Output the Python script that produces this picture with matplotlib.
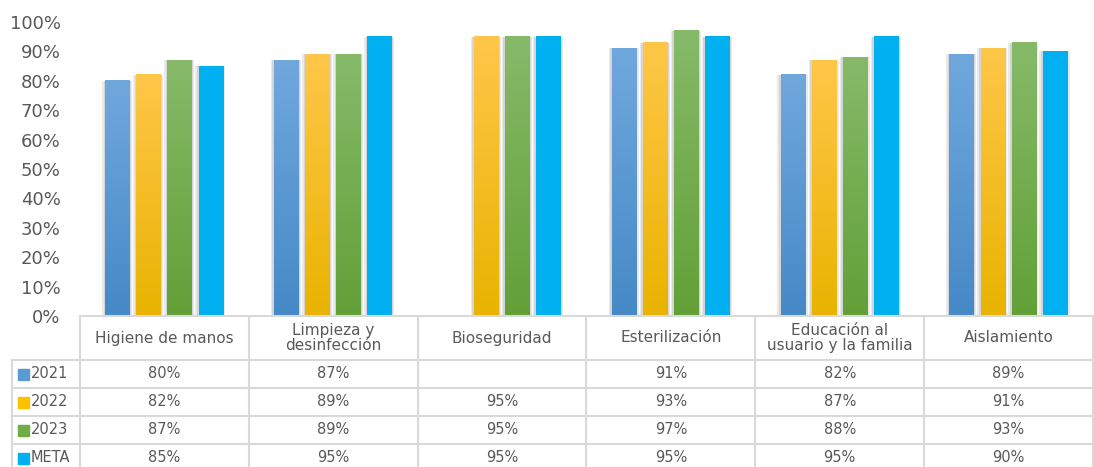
import numpy as np
import matplotlib
matplotlib.use("Agg")
import matplotlib.pyplot as plt
from matplotlib.colors import LinearSegmentedColormap

# ---------------- data ----------------
categories = ["Higiene de manos", "Limpieza y\ndesinfección", "Bioseguridad",
              "Esterilización", "Educación al\nusuario y la familia", "Aislamiento"]
series_names = ["2021", "2022", "2023", "META"]
v2021 = [0.80, 0.87, np.nan, 0.91, 0.82, 0.89]
v2022 = [0.82, 0.89, 0.95, 0.93, 0.87, 0.91]
v2023 = [0.87, 0.89, 0.95, 0.97, 0.88, 0.93]
vmeta = [0.85, 0.95, 0.95, 0.95, 0.95, 0.90]
series_values = [v2021, v2022, v2023, vmeta]
yticks = [0, 0.1, 0.2, 0.3, 0.4, 0.5, 0.6, 0.7, 0.8, 0.9, 1.0]

# ---------------- style ----------------
grad = [("#70A8DD", "#4689C7"), ("#FFC749", "#E9B300"), ("#86BA69", "#62A037"), ("#00B0F0", "#00B0F0")]
key_colors = ["#5B9BD5", "#FFC000", "#70AD47", "#00B0F0"]
txt = "#595959"
line_c = "#D9D9D9"

W, H = 1094, 467
fig = plt.figure(figsize=(W / 100, H / 100), dpi=100)
plt.rcParams['font.family'] = ['DejaVu Sans']

px_left, px_right, px_bottom, px_top = 80, 1093, 316, 22
ax = fig.add_axes([px_left / W, (H - px_bottom) / H, (px_right - px_left) / W, (px_bottom - px_top) / H])
ncat = len(categories)
x = np.arange(ncat)
step = 0.184
width = 0.148
unit_px = (px_right - px_left) / ncat

for i, (name, vals) in enumerate(zip(series_names, series_values)):
    xs = x + (i - 1.5) * step
    vals_arr = np.array(vals, dtype=float)
    # soft shadow
    ax.bar(xs - 0.004, np.nan_to_num(vals_arr), width=width + 0.03, color="#8C8C8C", alpha=0.18,
           zorder=1, linewidth=0)
    ax.bar(xs - 0.003, np.nan_to_num(vals_arr), width=width + 0.014, color="#8C8C8C", alpha=0.22,
           zorder=1, linewidth=0)
    bars = ax.bar(xs, np.nan_to_num(vals_arr), width=width, color=grad[i][0], zorder=2,
                  linewidth=0, label=name)
    cmap = LinearSegmentedColormap.from_list("g%d" % i, [grad[i][1], grad[i][0]])
    g = np.linspace(0, 1, 256).reshape(-1, 1)
    for b in bars:
        h = b.get_height()
        if h <= 0:
            b.set_visible(False)
            continue
        x0 = b.get_x()
        ax.imshow(g, extent=[x0, x0 + b.get_width(), 0, h], origin="lower", cmap=cmap,
                  aspect="auto", zorder=3, interpolation="bicubic")

ax.set_xlim(-0.5, ncat - 0.5)
ax.set_ylim(0, 1.0)
ax.set_yticks(yticks)
ax.set_yticklabels([f"{int(round(t * 100))}%" for t in yticks])
ax.tick_params(axis="y", length=0, pad=14, labelsize=13, labelcolor=txt)
ax.set_xticks([])
for s in ["top", "right", "left"]:
    ax.spines[s].set_visible(False)
ax.spines["bottom"].set_color(line_c)
ax.spines["bottom"].set_linewidth(1.5)
ax.spines["bottom"].set_zorder(5)

# ---------------- data table ----------------
tab_h = H - px_bottom
tax = fig.add_axes([px_left / W, 0, (px_right - px_left) / W, tab_h / H])
tax.set_xlim(-0.5, ncat - 0.5)
tax.set_ylim(tab_h, 0)  # pixel offset below the plot axis
tax.axis("off")
header_h, row_h = 44, 28
left_col_x = -0.5 - (px_left - 12) / unit_px

for k in range(ncat + 1):
    tax.plot([k - 0.5, k - 0.5], [0, tab_h], color=line_c, lw=1.5, clip_on=False)
tax.plot([left_col_x, left_col_x], [header_h, tab_h], color=line_c, lw=1.5, clip_on=False)
for r in range(4):
    yy = header_h + r * row_h
    tax.plot([left_col_x, ncat - 0.5], [yy, yy], color=line_c, lw=1.5, clip_on=False)

for c, name in enumerate(categories):
    tax.text(c, header_h / 2, name, ha="center", va="center", fontsize=11, color=txt,
             linespacing=1.05)

for i, (name, vals) in enumerate(zip(series_names, series_values)):
    yc = header_h + (i + 0.5) * row_h
    key_x0 = -0.5 - (px_left - 18) / unit_px
    key_w = 11 / unit_px
    tax.add_patch(plt.Rectangle((key_x0, yc - 5.5), key_w, 11, color=key_colors[i],
                                clip_on=False))
    tax.text(-0.5 - (px_left - 31) / unit_px, yc, name, ha="left", va="center",
             fontsize=10.5, color=txt, clip_on=False)
    for c, v in enumerate(vals):
        if not np.isnan(v):
            tax.text(c, yc, f"{int(round(v * 100))}%", ha="center", va="center",
                     fontsize=10.5, color=txt)

fig.savefig("out.png", dpi=100)
